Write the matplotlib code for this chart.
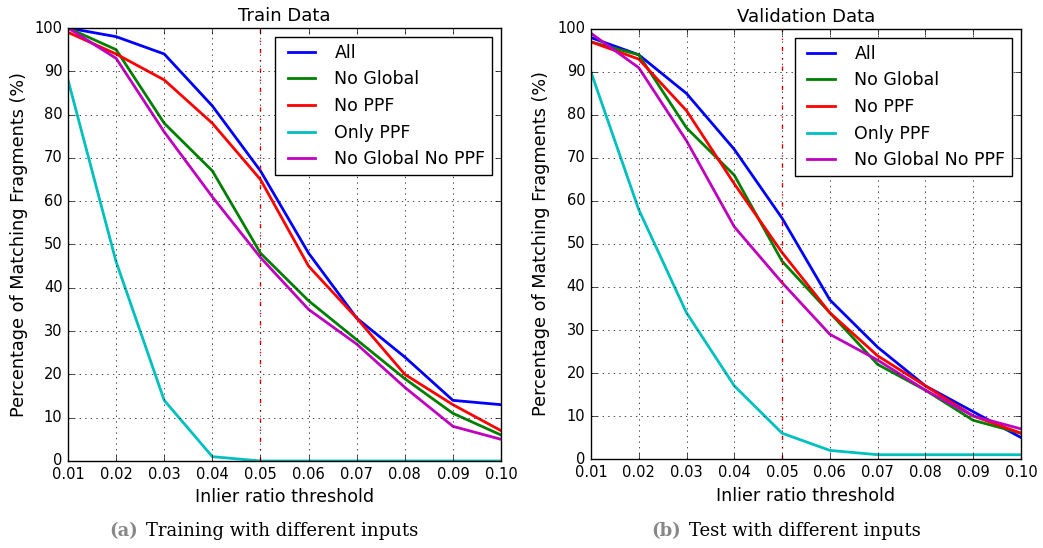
import numpy as np
import matplotlib
matplotlib.use("Agg")
import matplotlib.pyplot as plt

plt.style.use("classic")

thresholds = [0.01, 0.02, 0.03, 0.04, 0.05, 0.06, 0.07, 0.08, 0.09, 0.10]
tick_labels = ["0.01", "0.02", "0.03", "0.04", "0.05", "0.06", "0.07", "0.08", "0.09", "0.10"]
series_names = ["All", "No Global", "No PPF", "Only PPF", "No Global No PPF"]
series_colors = ["b", "g", "r", "c", "m"]

# Train data
train_all = [100, 98, 94, 82, 67, 48, 33, 24, 14, 13]
train_no_global = [100, 95, 78, 67, 48, 37, 28, 19, 11, 6]
train_no_ppf = [99, 94, 88, 78, 65, 45, 33, 20, 13, 7]
train_only_ppf = [88, 46, 14, 1, 0, 0, 0, 0, 0, 0]
train_no_global_no_ppf = [100, 93, 76, 61, 47, 35, 27, 17, 8, 5]

# Validation data
val_all = [98, 94, 85, 72, 56, 37, 26, 17, 11, 5]
val_no_global = [97, 94, 77, 66, 46, 34, 22, 16, 9, 6]
val_no_ppf = [97, 93, 81, 64, 48, 34, 24, 17, 10, 6]
val_only_ppf = [90, 58, 34, 17, 6, 2, 1, 1, 1, 1]
val_no_global_no_ppf = [99, 91, 74, 54, 41, 29, 23, 16, 10, 7]

cut_off = 0.05


def DrawPanel(ax, SeriesList, Title):
    for vals, name, col in zip(SeriesList, series_names, series_colors):
        ax.plot(thresholds, vals, color=col, lw=2, label=name)
    ax.axvline(x=cut_off, color="r", linestyle="-.", lw=1)
    ax.set_xlim(0.01, 0.10)
    ax.set_ylim(0, 100)
    ax.set_xticks(thresholds)
    ax.set_xticklabels(tick_labels)
    ax.set_yticks(range(0, 101, 10))
    ax.tick_params(labelsize=10.5)
    ax.grid(True, linestyle=":", color="k")
    ax.set_title(Title, fontsize=13)
    ax.set_xlabel("Inlier ratio threshold", fontsize=12.6)
    ax.set_ylabel("Percentage of Matching Fragments (%)", fontsize=12.7)
    ax.legend(loc="upper right", fontsize=12.5, handlelength=2.2,
              borderaxespad=0.5, labelspacing=0.5, fancybox=False)


fig = plt.figure(figsize=(10.43, 5.48), dpi=100, facecolor="white")
ax1 = fig.add_axes([0.0652, 0.1588, 0.4152, 0.7901])
ax2 = fig.add_axes([0.5666, 0.1624, 0.4123, 0.7847])

DrawPanel(ax1, [train_all, train_no_global, train_no_ppf, train_only_ppf,
                train_no_global_no_ppf], "Train Data")
DrawPanel(ax2, [val_all, val_no_global, val_no_ppf, val_only_ppf,
                val_no_global_no_ppf], "Validation Data")

# captions
fig.text(0.132, 0.031, "(a)", family="DejaVu Serif", fontsize=13,
         fontweight="bold", color="#888888", ha="right", va="center")
fig.text(0.140, 0.031, "Training with different inputs", family="DejaVu Serif",
         fontsize=13, ha="left", va="center")
fig.text(0.653, 0.031, "(b)", family="DejaVu Serif", fontsize=13,
         fontweight="bold", color="#888888", ha="right", va="center")
fig.text(0.661, 0.031, "Test with different inputs", family="DejaVu Serif",
         fontsize=13, ha="left", va="center")

fig.savefig("out.png", dpi=100, facecolor="white")
